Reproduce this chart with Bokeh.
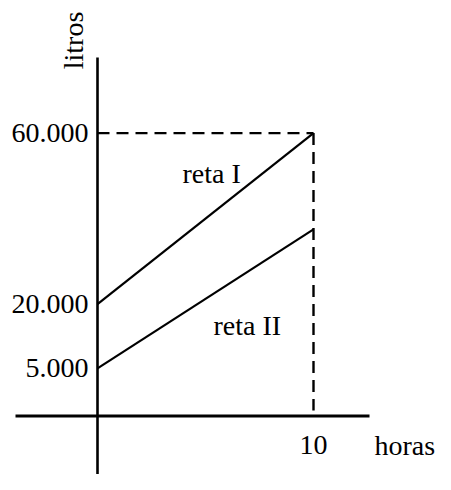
from bokeh.plotting import figure
from bokeh.models import Range1d
from bokeh.core.properties import value
from bokeh.embed import file_html
from bokeh.resources import INLINE
import math

# ---- data ----
horas = [0, 10]
reta_I = [20000, 60000]
reta_II = [5000, 37500]
y_ticks = [60000, 20000, 5000]
y_tick_labels = ["60.000", "20.000", "5.000"]
x_ticks = [10]
x_tick_labels = ["10"]
x_title = "horas"
y_title = "litros"
label_I = "reta I"
label_II = "reta II"

# ---- layout / style ----
W, H = 435, 474
X0 = 97.0            # canvas px of x = 0
PXH = 21.6           # px per hour
Y_INT = 389.2        # canvas px of y = 0
PXL = 4.277 / 1000   # px per litre

def xd(px):
    return (px - X0) / PXH

def yd(py):
    return (Y_INT - py) / PXL

FONT = value("Liberation Serif")
FS = "28px"

AXIS_Y = yd(415.5)
AXIS_TOP = yd(57)
AXIS_X0 = xd(15)
AXIS_X1 = xd(369)

p = figure(width=W, height=H, output_backend="svg", toolbar_location=None,
           x_range=Range1d(xd(0), xd(W)), y_range=Range1d(yd(H), yd(0)),
           min_border=0)
p.xaxis.visible = False
p.yaxis.visible = False
p.grid.visible = False
p.outline_line_color = None
p.background_fill_color = "white"
p.border_fill_color = "white"

# axes lines
p.segment(x0=[0], y0=[AXIS_TOP], x1=[0], y1=[yd(H + 5)], line_color="black", line_width=2.6)
p.segment(x0=[AXIS_X0], y0=[AXIS_Y], x1=[AXIS_X1], y1=[AXIS_Y], line_color="black", line_width=2.8)

# dashed guides
p.line(x=[0, horas[1]], y=[reta_I[1], reta_I[1]], line_color="black", line_width=2.4, line_dash="12 7")
p.line(x=[horas[1], horas[1]], y=[reta_I[1], yd(410)], line_color="black", line_width=2.4, line_dash="12 7")

# lines
p.line(x=horas, y=reta_I, line_color="black", line_width=2.2)
p.line(x=horas, y=reta_II, line_color="black", line_width=2.2)

# tick labels
p.text(x=[0] * len(y_ticks), y=y_ticks, text=y_tick_labels, text_align="right",
       text_baseline="middle", x_offset=-9, text_font=FONT, text_font_size=FS, text_color="black")
p.text(x=x_ticks, y=[AXIS_Y] * len(x_ticks), text=x_tick_labels, text_align="center",
       text_baseline="alphabetic", y_offset=29, text_font=FONT, text_font_size=FS, text_color="black")

# axis titles
p.text(x=[AXIS_X1], y=[AXIS_Y], text=[x_title], text_align="left", text_baseline="alphabetic",
       x_offset=5, y_offset=29, text_font=FONT, text_font_size=FS, text_color="black")
p.text(x=[xd(73)], y=[yd(40)], text=[y_title], angle=math.pi / 2, text_align="center",
       text_baseline="middle", text_font=FONT, text_font_size=FS, text_color="black")

# line labels
p.text(x=[xd(182)], y=[yd(173)], text=[label_I], text_align="left", text_baseline="alphabetic",
       text_font=FONT, text_font_size=FS, text_color="black")
p.text(x=[xd(213)], y=[yd(325)], text=[label_II], text_align="left", text_baseline="alphabetic",
       text_font=FONT, text_font_size=FS, text_color="black")

open("out.html", "w").write(file_html(p, INLINE))
